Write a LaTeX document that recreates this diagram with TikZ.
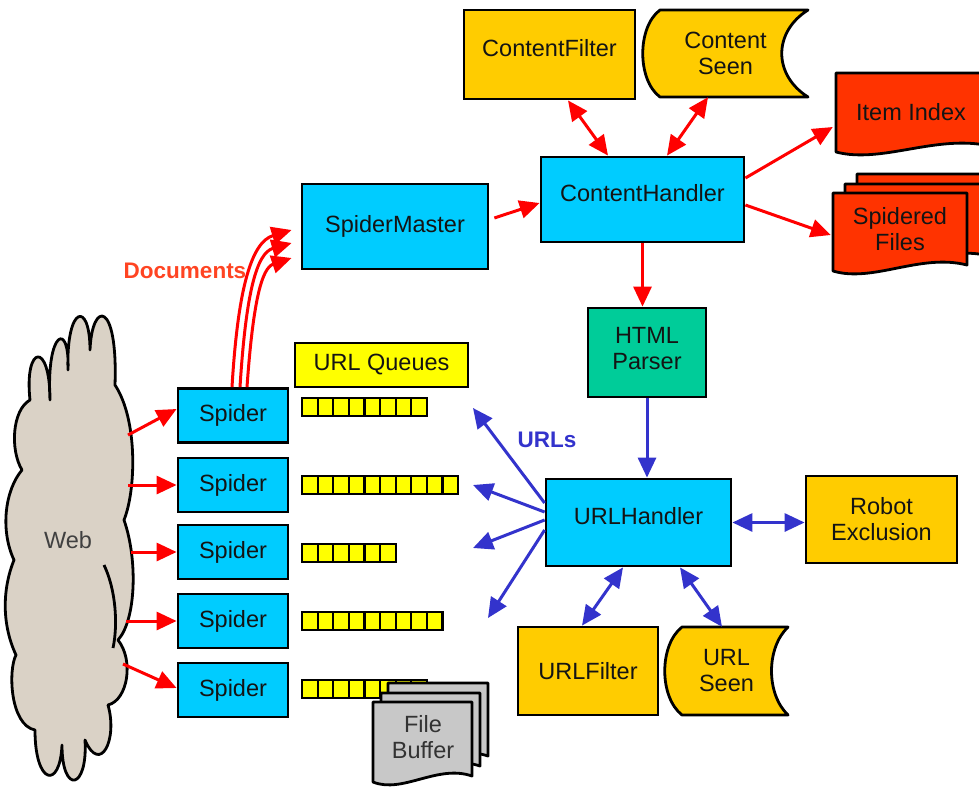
\documentclass[tikz,border=0pt]{standalone}
\usepackage{fontspec}
\setmainfont{Liberation Sans}
\usetikzlibrary{arrows.meta}
\definecolor{cyanbox}{RGB}{0,204,255}
\definecolor{goldbox}{RGB}{255,204,0}
\definecolor{tealbox}{RGB}{0,204,153}
\definecolor{docred}{RGB}{255,51,0}
\definecolor{qyellow}{RGB}{255,255,0}
\definecolor{bufgray}{RGB}{200,200,200}
\definecolor{cloudfill}{RGB}{218,210,198}
\definecolor{arrred}{RGB}{255,0,0}
\definecolor{arrblue}{RGB}{51,51,204}
\definecolor{doclabel}{RGB}{255,68,34}
\definecolor{txt}{RGB}{20,20,20}
\newcommand\DocPg[5]{\filldraw[draw=black,line width=2.8pt,line join=round,fill=#5] (#1,#2) -- (#3,#2) -- (#3,{#4-6}) .. controls ({#1+0.65*(#3-#1)},{#4-18}) and ({#1+0.3*(#3-#1)},{#4+12}) .. (#1,#4) -- cycle;}
\begin{document}
\begin{tikzpicture}[x=1pt,y=-1pt,
 >={Triangle[length=20pt,width=18pt]},
 box/.style={draw=black, line width=2.8pt, inner sep=0pt, align=center, text=txt, font=\fontsize{23.5}{26}\selectfont},
 plain/.style={inner sep=0pt, align=center, text=txt, font=\fontsize{23.5}{26}\selectfont},
 raised/.style={text depth=14pt},
 ra/.style={draw=arrred, line width=3pt, ->},
 rb/.style={draw=arrred, line width=3pt, <->},
 ba/.style={draw=arrblue, line width=3pt, ->},
 bb/.style={draw=arrblue, line width=3pt, <->},
 outl/.style={draw=black, line width=2.8pt, line join=round},
 cell/.style={draw=black, line width=2.2pt, fill=qyellow},
]
\useasboundingbox (0,0) rectangle (979,788);
\fill[white] (0,0) rectangle (979,788);
\clip (0,0) rectangle (979,788);

% ---- Web cloud ----
\filldraw[outl, fill=cloudfill]
 (30,400) .. controls (24,345) and (50,340) .. (50,400)
 .. controls (46,330) and (70,320) .. (68,370)
 .. controls (66,305) and (90,300) .. (90,350)
 .. controls (92,300) and (118,300) .. (115,385)
 .. controls (138,420) and (136,490) .. (124,520)
 .. controls (138,560) and (136,620) .. (118,640)
 .. controls (134,660) and (128,700) .. (108,705)
 .. controls (118,740) and (100,775) .. (85,740)
 .. controls (88,790) and (62,795) .. (62,745)
 .. controls (60,790) and (35,785) .. (35,730)
 .. controls (10,725) and (8,670) .. (16,655)
 .. controls (2,625) and (2,590) .. (14,560)
 .. controls (0,530) and (5,490) .. (22,470)
 .. controls (10,450) and (12,410) .. (30,400) -- cycle;
\draw[outl] (104,565) .. controls (116,590) and (118,625) .. (113,648);
\node[plain, text=black!75] (web) at (68,540) {Web};

% ---- top boxes ----
\node[box, raised, fill=goldbox, minimum width=171pt, minimum height=89pt] (cf) at (549.5,54.5) {ContentFilter};
\filldraw[outl, fill=goldbox] (660,10) -- (808,10) .. controls (773,32) and (773,75) .. (808,97) -- (660,97) .. controls (637,80) and (637,27) .. (660,10) -- cycle;
\node[plain, minimum width=165pt, minimum height=87pt] (cs) at (725.5,53.5) {Content\\Seen};

\node[box, raised, fill=cyanbox, minimum width=203pt, minimum height=85pt] (ch) at (642.5,199.5) {ContentHandler};
\node[box, fill=cyanbox, minimum width=186pt, minimum height=85pt] (sm) at (395,226.5) {SpiderMaster};

\DocPg{836}{73}{990}{152}{docred}
\node[plain, minimum width=150pt, minimum height=79pt] (ii) at (911,112) {Item Index};
\DocPg{857}{174}{995}{252}{docred}
\DocPg{845}{184}{990}{262}{docred}
\DocPg{833}{193}{967}{271}{docred}
\node[plain, minimum width=134pt, minimum height=76pt] (sf) at (900,229) {Spidered\\Files};

\node[box, fill=tealbox, minimum width=118pt, minimum height=89pt] (hp) at (647,352.5) {HTML\\Parser\vphantom{q}\rule[-9pt]{0pt}{1pt}};
\node[box, raised, fill=cyanbox, minimum width=185pt, minimum height=87pt] (uh) at (638.5,522.5) {URLHandler};
\node[box, fill=goldbox, minimum width=151pt, minimum height=87pt] (re) at (881.5,519.5) {Robot\\Exclusion};
\node[box, fill=goldbox, minimum width=140pt, minimum height=88pt] (uf) at (588,671) {URLFilter};
\filldraw[outl, fill=goldbox] (682,627) -- (788,627) .. controls (766,648) and (766,694) .. (788,715) -- (682,715) .. controls (659,697) and (659,645) .. (682,627) -- cycle;
\node[plain, minimum width=123pt, minimum height=88pt] (us) at (726.5,671) {URL\\Seen};

% ---- spiders ----
\node[box, fill=cyanbox, minimum width=110pt, minimum height=54pt] (s1) at (233,415.5) {Spider};
\node[box, fill=cyanbox, minimum width=110pt, minimum height=54pt] (s2) at (233,485) {Spider};
\node[box, fill=cyanbox, minimum width=110pt, minimum height=54pt] (s3) at (233,552) {Spider};
\node[box, fill=cyanbox, minimum width=110pt, minimum height=54pt] (s4) at (233,621) {Spider};
\node[box, fill=cyanbox, minimum width=110pt, minimum height=54pt] (s5) at (233,690) {Spider};

% ---- URL queues ----
\node[box, fill=qyellow, minimum width=173pt, minimum height=44pt] (uq) at (381.5,365) {URL Queues};
\foreach \qy/\qn in {398/8, 476/10, 544/6, 612/9, 680/8} {
  \foreach \qi in {1,...,\qn} {
    \draw[cell] ({302+(\qi-1)*15.6},\qy) rectangle ++(15.6,18);
  }
}

% ---- file buffer ----
\DocPg{388}{683}{488}{762}{bufgray}
\DocPg{381}{693}{480}{772}{bufgray}
\DocPg{373}{702}{472}{782}{bufgray}
\node[plain, text=black!80, minimum width=99pt, minimum height=70pt] (fb) at (423,737) {File\\Buffer};

% ---- labels ----
\node[inner sep=0pt, text=doclabel, font=\bfseries\fontsize{22.5}{25}\selectfont] (doc) at (185,271) {Documents};
\node[inner sep=0pt, text=arrblue, font=\bfseries\fontsize{22.5}{25}\selectfont] (urls) at (547,440) {URLs};

% ---- coordinates ----
\coordinate (w1) at (128,435);
\coordinate (w2) at (128,485);
\coordinate (w3) at (131,552);
\coordinate (w4) at (126,621);
\coordinate (w5) at (123,664);
\coordinate (u1) at (473,408);
\coordinate (u2) at (473,485);
\coordinate (u3) at (473,548);
\coordinate (u4) at (488,618);

% ---- red arrows ----
\draw[ra] (w1) -- ([yshift=6.5pt]s1.west);
\draw[ra] (w2) -- (s2.west);
\draw[ra] (w3) -- (s3.west);
\draw[ra] (w4) -- (s4.west);
\draw[ra] (w5) -- ([yshift=2pt]s5.west);

\draw[ra] ([xshift=-1pt]s1.north) .. controls +(6,-100) and +(-40,12) .. ([xshift=-9pt,yshift=-3.5pt]sm.west);
\draw[ra] ([xshift=7pt]s1.north) .. controls +(6,-95) and +(-35,10) .. ([xshift=-9pt,yshift=-16.5pt]sm.west);
\draw[ra] ([xshift=14pt]s1.north) .. controls +(6,-85) and +(-30,10) .. ([xshift=-9pt,yshift=-31.5pt]sm.west);

\draw[ra] ([xshift=5pt,yshift=8.5pt]sm.east) -- ([yshift=-3.5pt]ch.west);
\draw[rb] ([xshift=18.5pt]cf.south) -- ([xshift=-34.5pt]ch.north);
\draw[rb] ([xshift=-17.5pt]cs.south) -- ([xshift=24.5pt]ch.north);
\draw[ra] ([yshift=21.5pt]ch.east) -- ([xshift=-3pt,yshift=-15pt]ii.west);
\draw[ra] ([yshift=-5.5pt]ch.east) -- ([xshift=-2pt,yshift=-6pt]sf.west);
\draw[ra] (ch.south) -- (ch.south |- hp.north);

% ---- blue arrows ----
\draw[ba] (hp.south) -- (hp.south |- uh.north);
\draw[bb] (uh.east) -- (uh.east -| re.west);
\draw[bb] ([xshift=-15.5pt]uh.south) -- ([xshift=-6pt]uf.north);
\draw[bb] ([xshift=41.5pt]uh.south) -- ([xshift=-4.5pt]us.north);
\draw[ba] ([yshift=19.5pt]uh.west) -- (u1);
\draw[ba] ([yshift=10.5pt]uh.west) -- (u2);
\draw[ba] ([yshift=2.5pt]uh.west) -- (u3);
\draw[ba] ([yshift=-7.5pt]uh.west) -- (u4);
\end{tikzpicture}
\end{document}
